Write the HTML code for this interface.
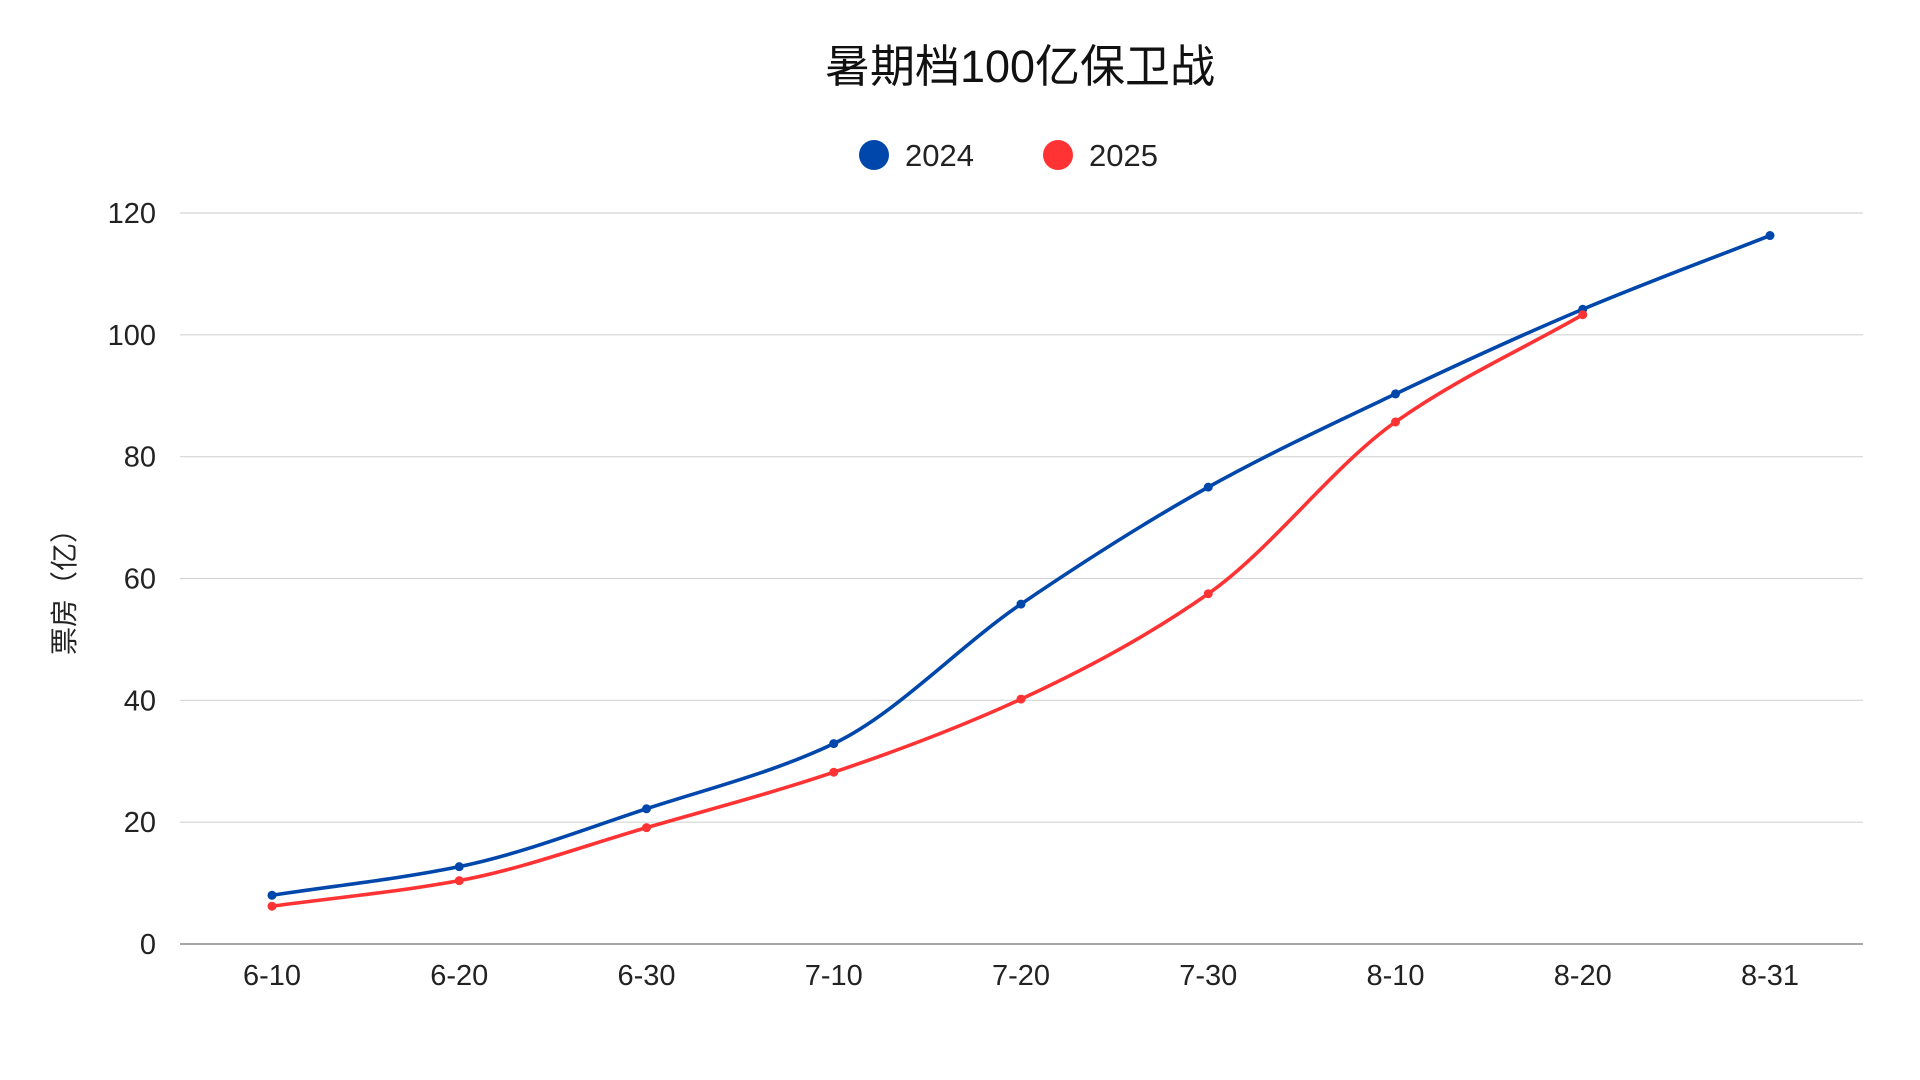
<!DOCTYPE html>
<html><head><meta charset="utf-8"><style>
body{margin:0;background:#fff;}
svg{display:block;font-family:"Liberation Sans","Noto Sans CJK SC",sans-serif;}
</style></head><body>
<svg id="chart" width="1920" height="1080" viewBox="0 0 1920 1080">
<text x="1020" y="82" text-anchor="middle" font-size="45" fill="#111">暑期档100亿保卫战</text>
<g>
<g><circle cx="874" cy="155" r="15" fill="#0047AB"/><text x="905" y="166" font-size="31" fill="#222">2024</text></g>
<g><circle cx="1058" cy="155" r="15" fill="#FF3333"/><text x="1089" y="166" font-size="31" fill="#222">2025</text></g>
</g>
<text transform="translate(74,585) rotate(-90)" text-anchor="middle" font-size="28" fill="#222">票房（亿）</text>
<g id="grid"></g><g id="axes"></g><g id="series"></g>
</svg>
<script>
const categories=["6-10","6-20","6-30","7-10","7-20","7-30","8-10","8-20","8-31"];
const series2024=[8.0,12.7,22.2,32.9,55.8,75.0,90.3,104.2,116.3];
const series2025=[6.2,10.4,19.1,28.2,40.2,57.5,85.7,103.3];
const yTicks=[0,20,40,60,80,100,120];
const NS="http://www.w3.org/2000/svg";
const L=180,R=1863,Y0=944,Y120=213,X0=272,X1=1770;
const xs=i=>X0+(X1-X0)*i/(categories.length-1);
const ys=v=>Y0-(Y0-Y120)*v/120;
function mk(t,a,p){const e=document.createElementNS(NS,t);for(const k in a)e.setAttribute(k,a[k]);p.appendChild(e);return e;}
const grid=document.getElementById('grid'),axes=document.getElementById('axes'),ser=document.getElementById('series');
yTicks.forEach(v=>{
 const l=mk('line',{x1:L,x2:R,y1:ys(v),y2:ys(v),stroke:v===0?'#888':'#d4d4d4','stroke-width':v===0?1.5:1.2},grid);
 
 
 const t=mk('text',{x:156,y:ys(v)+10,'text-anchor':'end','font-size':29,fill:'#222'},axes);
 t.textContent=v;
 
 
});
categories.forEach((c,i)=>{
 const t=mk('text',{x:xs(i),y:985,'text-anchor':'middle','font-size':29,fill:'#222'},axes);
 t.textContent=c;
 
 
});
function path(vals){
 const n=vals.length,px=vals.map((v,i)=>xs(i)),py=vals.map(ys);
 const d=[],m=[];
 for(let i=0;i<n-1;i++)d.push((py[i+1]-py[i])/(px[i+1]-px[i]));
 for(let i=0;i<n;i++){
  if(i===0)m.push(d[0]);else if(i===n-1)m.push(d[n-2]);
  else m.push(d[i-1]*d[i]<=0?0:2/(1/d[i-1]+1/d[i]));
 }
 let s='M'+px[0]+','+py[0];
 for(let i=0;i<n-1;i++){const h=(px[i+1]-px[i])/3;
  s+=' C'+(px[i]+h)+','+(py[i]+m[i]*h)+' '+(px[i+1]-h)+','+(py[i+1]-m[i+1]*h)+' '+px[i+1]+','+py[i+1];}
 return s;
}
function draw(vals,color,name){
 const g=mk('g',{},ser);
 
 
 const p=mk('path',{d:path(vals),fill:'none',stroke:color,'stroke-width':3.6},g);
 
 
 vals.forEach((v,i)=>{
  const c=mk('circle',{cx:xs(i),cy:ys(v),r:4.5,fill:color},g);
  
  
 });
}
draw(series2024,'#0047AB','2024');
draw(series2025,'#FF3333','2025');
</script>
</body></html>
